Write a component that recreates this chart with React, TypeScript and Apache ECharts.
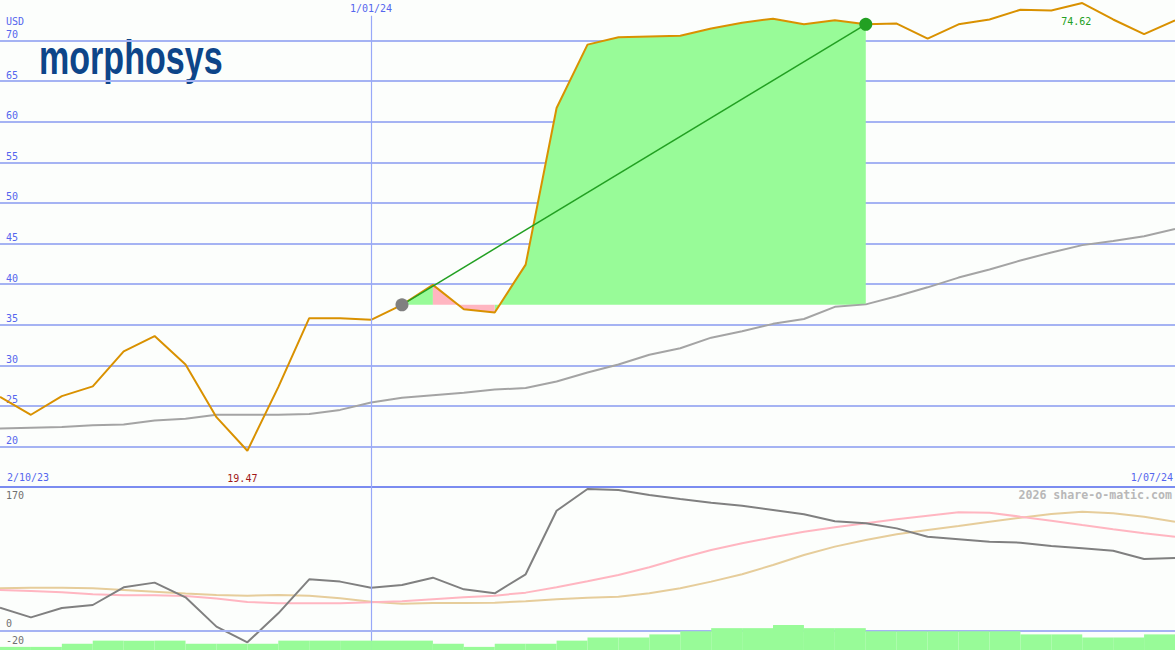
import React, { useEffect, useRef } from "react";
import * as echarts from "echarts";

const dates = [
  "9/10/23", "16/10/23", "23/10/23", "30/10/23", "6/11/23", "13/11/23", "20/11/23", "27/11/23",
  "4/12/23", "11/12/23", "18/12/23", "25/12/23", "1/01/24", "8/01/24", "15/01/24", "22/01/24",
  "29/01/24", "5/02/24", "12/02/24", "19/02/24", "26/02/24", "4/03/24", "11/03/24", "18/03/24",
  "25/03/24", "1/04/24", "8/04/24", "15/04/24", "22/04/24", "29/04/24", "6/05/24", "13/05/24",
  "20/05/24", "27/05/24", "3/06/24", "10/06/24", "17/06/24", "24/06/24", "1/07/24",
];

const price = [
  26.1, 23.9, 26.2, 27.4, 31.7, 33.6, 30.1, 23.6, 19.47, 27.3, 35.8, 35.8, 35.6, 37.45, 39.9, 36.9,
  36.5, 42.4, 61.7, 69.5, 70.4, 70.5, 70.6, 71.5, 72.2, 72.7, 72.0, 72.5, 72.0, 72.1, 70.25, 72.0,
  72.6, 73.8, 73.7, 74.62, 72.6, 70.8, 72.5,
];

const average = [
  22.2, 22.3, 22.4, 22.6, 22.7, 23.2, 23.4, 23.9, 23.9, 23.9, 24.0, 24.5, 25.4, 26.0, 26.3, 26.6,
  27.0, 27.2, 28.0, 29.1, 30.1, 31.3, 32.1, 33.4, 34.2, 35.1, 35.7, 37.2, 37.5, 38.5, 39.6, 40.8,
  41.8, 42.9, 43.9, 44.8, 45.3, 45.9, 46.8,
];

const momentum = [
  27.7, 16.2, 27.3, 30.9, 51.9, 57.5, 40.0, 5.2, -13.5, 21.0, 61.4, 58.7, 51.5, 54.7, 63.4, 49.5,
  44.8, 67.4, 143, 168.8, 167.6, 161.7, 157, 152.6, 149, 143.9, 138.7, 130.4, 128, 122, 112, 109,
  106, 105, 101, 98.3, 95.5, 85.6, 86.8,
];

const pinkLine = [
  48.7, 47.6, 46, 43.6, 42.4, 42.4, 41.6, 38.5, 34.5, 32.9, 33.1, 33.1, 34.1, 35.3, 37.7, 40,
  42, 45.6, 51.9, 59.2, 66.6, 75.7, 86.4, 96.3, 104.3, 111.4, 118, 123.3, 128, 132.8, 137.1, 141.1,
  140.7, 135.9, 131.2, 126, 121, 116.2, 112.1,
];

const tanLine = [
  50.7, 51.5, 51.5, 50.7, 48.7, 46.7, 44.7, 42.8, 42, 42.8, 42, 38.9, 34.9, 32.5, 33.3, 33.3,
  33.7, 35.3, 37.7, 39.6, 40.8, 44.8, 50.7, 58.7, 67.4, 78.5, 90.4, 100.3, 108.2, 115, 120.1, 124.9,
  130, 134.7, 139.1, 141.9, 139.9, 135.9, 130,
];

const volume = [
  1, 1, 2, 3, 3, 3, 2, 2, 2, 3, 3, 3, 3, 3, 2, 1, 2, 2, 3, 4, 4, 5, 6, 7, 7, 8, 7, 7, 6, 6, 6, 6,
  6, 5, 5, 4, 4, 5,
];

const buyIndex = 13;
const sellIndex = 28;
const pinkStart = 14;
const pinkEnd = 16;
const markerDate = "1/01/24";
const rangeLabels = ["2/10/23", "1/07/24"];
const lowerTicks = [170, 0, -20];
const currency = "USD";
const watermark = "2026 share-o-matic.com";
const logoText = "morphosys";

const MONO = '"DejaVu Sans Mono", monospace';
const BLUE_TEXT = "#5566ee";
const GRID_BLUE = "#a5b3f3";
const VLINE = "#98a8f8";
const BG = "#fcfefc";
const CLEAR = "rgba(0,0,0,0)";

export default function App() {
  const ref = useRef<HTMLDivElement>(null);

  useEffect(() => {
    if (!ref.current) return;
    const chart = echarts.init(ref.current, null, { renderer: "svg" });
    const base = price[buyIndex];
    const inTrade = (i: number) => i >= buyIndex && i <= sellIndex;
    const inPink = (i: number) => i >= pinkStart && i <= pinkEnd;
    const greenBase = price.map((_, i) => (inTrade(i) ? base : null));
    const greenDiff = price.map((v, i) =>
      inTrade(i) && !(i > pinkStart && i < pinkEnd) ? +(v - base).toFixed(3) : null
    );
    const pinkBase = price.map((_, i) => (inPink(i) ? base : null));
    const pinkDiff = price.map((v, i) => (inPink(i) ? +(v - base).toFixed(3) : null));
    const trend = price.map((v, i) =>
      i === buyIndex
        ? { value: v, itemStyle: { color: "#808080" } }
        : i === sellIndex
        ? { value: v, itemStyle: { color: "#22a022" } }
        : null
    );
    const barData = volume.map((v, i) => [i, v]);

    const option: any = {
      animation: false,
      backgroundColor: BG,
      grid: [
        { left: 0, right: 0, top: 0, height: 487 },
        { left: 0, right: 0, top: 487, height: 163 },
      ],
      xAxis: [
        { type: "category", gridIndex: 0, data: dates, boundaryGap: false, show: false },
        {
          type: "category",
          gridIndex: 1,
          data: dates,
          boundaryGap: false,
          position: "top",
          axisLine: { show: true, onZero: false, lineStyle: { color: "#7b8cf0", width: 2 } },
          axisTick: { show: false },
          axisLabel: { show: false },
          splitLine: { show: false },
        },
      ],
      yAxis: [
        {
          type: "value",
          gridIndex: 0,
          min: 15,
          max: 75,
          interval: 5,
          axisLine: { show: false },
          axisTick: { show: false },
          splitLine: {
            show: true,
            showMinLine: false,
            showMaxLine: false,
            lineStyle: { color: GRID_BLUE, width: 2 },
          },
          axisLabel: {
            inside: true,
            margin: 6,
            align: "left",
            verticalAlign: "bottom",
            showMinLabel: false,
            showMaxLabel: false,
            color: BLUE_TEXT,
            fontFamily: MONO,
            fontSize: 10,
            padding: [0, 0, 1, 0],
          },
        },
        { type: "value", gridIndex: 1, min: -22.6, max: 171.2, show: false },
        { type: "value", gridIndex: 1, min: 0, max: 52.2, show: false },
      ],
      series: [
        {
          type: "line",
          xAxisIndex: 0,
          yAxisIndex: 0,
          stack: "gain",
          stackStrategy: "all",
          data: greenBase,
          symbol: "none",
          lineStyle: { opacity: 0 },
          z: 1,
        },
        {
          type: "line",
          xAxisIndex: 0,
          yAxisIndex: 0,
          stack: "gain",
          stackStrategy: "all",
          data: greenDiff,
          symbol: "none",
          lineStyle: { opacity: 0 },
          areaStyle: { color: "#98fb98", opacity: 1 },
          z: 1,
        },
        {
          type: "line",
          xAxisIndex: 0,
          yAxisIndex: 0,
          stack: "loss",
          stackStrategy: "all",
          data: pinkBase,
          symbol: "none",
          lineStyle: { opacity: 0 },
          z: 1,
        },
        {
          type: "line",
          xAxisIndex: 0,
          yAxisIndex: 0,
          stack: "loss",
          stackStrategy: "all",
          data: pinkDiff,
          symbol: "none",
          lineStyle: { opacity: 0 },
          areaStyle: { color: "#ffb6c1", opacity: 1 },
          z: 1,
        },
        {
          type: "line",
          xAxisIndex: 0,
          yAxisIndex: 0,
          data: average,
          symbol: "none",
          lineStyle: { color: "#a4a4a4", width: 2 },
          z: 2,
        },
        {
          type: "line",
          xAxisIndex: 0,
          yAxisIndex: 0,
          data: price,
          symbol: "none",
          lineStyle: { color: "#d99100", width: 2 },
          z: 3,
          markLine: {
            silent: true,
            symbol: ["none", "none"],
            lineStyle: { color: VLINE, width: 1.2, type: "solid", opacity: 1 },
            label: {
              show: true,
              position: "start",
              formatter: markerDate,
              color: BLUE_TEXT,
              fontFamily: MONO,
              fontSize: 10,
              distance: 2,
            },
            data: [[{ coord: [markerDate, 73.05] }, { coord: [markerDate, 15] }]],
          },
          markPoint: {
            symbol: "circle",
            symbolSize: 1,
            itemStyle: { color: CLEAR },
            label: {
              show: true,
              position: "inside",
              fontFamily: MONO,
              fontSize: 10,
              formatter: (p: any) => Number(p.value).toFixed(2),
            },
            data: [
              { type: "max", label: { offset: [-6, 18], color: "#22a022" } },
              { type: "min", label: { offset: [-5, 28], color: "#a01818" } },
            ],
          },
        },
        {
          type: "line",
          xAxisIndex: 0,
          yAxisIndex: 0,
          data: trend,
          connectNulls: true,
          showAllSymbol: true,
          symbol: "circle",
          symbolSize: 13,
          lineStyle: { color: "#22a022", width: 1.5 },
          z: 4,
        },
        {
          type: "line",
          xAxisIndex: 1,
          yAxisIndex: 1,
          data: tanLine,
          symbol: "none",
          lineStyle: { color: "#e6cd9b", width: 2 },
          z: 2,
        },
        {
          type: "line",
          xAxisIndex: 1,
          yAxisIndex: 1,
          data: pinkLine,
          symbol: "none",
          lineStyle: { color: "#ffb6c1", width: 2 },
          z: 2,
        },
        {
          type: "line",
          xAxisIndex: 1,
          yAxisIndex: 1,
          data: momentum,
          symbol: "none",
          lineStyle: { color: "#808080", width: 2 },
          z: 2,
          markLine: {
            silent: true,
            symbol: ["none", "none"],
            label: {
              show: true,
              color: "#707070",
              fontFamily: MONO,
              fontSize: 10,
              distance: [6, 2],
            },
            data: [
              {
                xAxis: markerDate,
                lineStyle: { color: VLINE, width: 1.2, type: "solid" },
                label: { show: false },
              },
              {
                yAxis: lowerTicks[1],
                lineStyle: { color: GRID_BLUE, width: 2, type: "solid" },
                label: { position: "insideStartTop", formatter: String(lowerTicks[1]) },
              },
              {
                yAxis: lowerTicks[2],
                lineStyle: { color: CLEAR, width: 1, type: "solid" },
                label: { position: "insideStartTop", formatter: String(lowerTicks[2]) },
              },
              {
                yAxis: lowerTicks[0],
                lineStyle: { color: CLEAR, width: 1, type: "solid" },
                label: { position: "insideStartBottom", formatter: String(lowerTicks[0]) },
              },
            ],
          },
        },
        {
          type: "custom",
          xAxisIndex: 1,
          yAxisIndex: 2,
          data: barData,
          encode: { x: 0, y: 1 },
          z: 5,
          renderItem: (_params: any, api: any) => {
            const i = api.value(0);
            const v = api.value(1);
            const p0 = api.coord([i, v]);
            const p1 = api.coord([i + 1, 0]);
            return {
              type: "rect",
              shape: { x: p0[0], y: p0[1], width: p1[0] - p0[0], height: p1[1] - p0[1] },
              style: { fill: "#98fb98" },
            };
          },
        },
      ],
      graphic: [
        {
          type: "text",
          x: 6,
          y: 16,
          style: { text: currency, fill: BLUE_TEXT, font: `10px ${MONO}` },
        },
        {
          type: "text",
          x: 7,
          y: 472,
          style: { text: rangeLabels[0], fill: BLUE_TEXT, font: `10px ${MONO}` },
        },
        {
          type: "text",
          x: 1173,
          y: 472,
          style: { text: rangeLabels[1], fill: BLUE_TEXT, font: `10px ${MONO}`, align: "right" },
        },
        {
          type: "text",
          x: 1172,
          y: 489,
          style: {
            text: watermark,
            fill: "#b8b8b8",
            font: `bold 11.6px ${MONO}`,
            align: "right",
          },
        },
        {
          type: "text",
          x: 39,
          y: 57,
          scaleX: 0.71,
          style: {
            text: logoText,
            fill: "#0d4589",
            font: 'bold 48px "Liberation Sans", Arial, sans-serif',
            verticalAlign: "middle",
          },
        },
      ],
    };

    chart.setOption(option);
    return () => chart.dispose();
  }, []);

  return (
    <div
      ref={ref}
      style={{ position: "fixed", left: 0, top: 0, width: 1175, height: 650 }}
    />
  );
}
